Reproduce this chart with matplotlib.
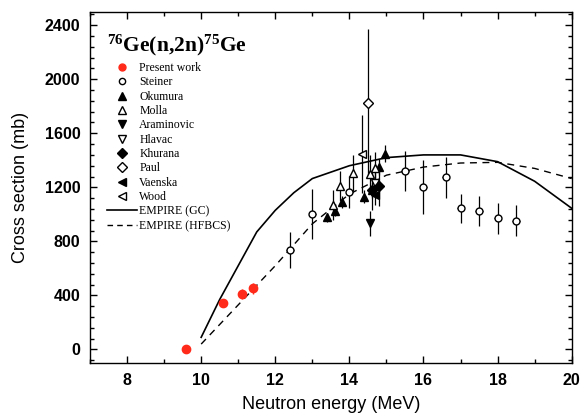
import matplotlib
matplotlib.use("Agg")

import matplotlib.pyplot as plt
from matplotlib.lines import Line2D
from matplotlib.ticker import MultipleLocator

# present work
pw_e = [9.6, 10.6, 11.1, 11.4]
pw_s = [3, 345, 410, 452]
pw_err = [15, 30, 35, 40]

# Steiner
st_e = [12.4, 13.0, 14.0, 15.5, 16.0, 16.6, 17.0, 17.5, 18.0, 18.5]
st_s = [738, 1003, 1165, 1322, 1205, 1273, 1044, 1024, 970, 952]
st_err = [135, 185, 120, 150, 200, 150, 110, 110, 115, 115]

# Okumura
ok_e = [13.4, 13.6, 13.8, 14.4, 14.6, 14.8, 14.95]
ok_s = [977, 1028, 1092, 1132, 1178, 1350, 1450]
ok_err = [35, 40, 45, 50, 55, 60, 60]

# Molla
mo_e = [13.55, 13.75, 14.1, 14.55, 14.7]
mo_s = [1068, 1210, 1306, 1296, 1345]
mo_err = [110, 110, 130, 140, 120]

# Araminovic
ar_e = [14.55]
ar_s = [933]
ar_err = [90]

# Hlavac
hl_e = [14.7]
hl_s = [1235]
hl_err = [100]

# Khurana
kh_e = [14.6, 14.8]
kh_s = [1180, 1210]
kh_err = [150, 150]

# Paul
pa_e = [14.5]
pa_s = [1822]
pa_err = [550]

# Vaenska
va_e = [14.7]
va_s = [1140]
va_err = [70]

# Wood
wo_e = [14.35]
wo_s = [1448]
wo_err = [290]

# EMPIRE calculations
gc_e = [10.0, 10.5, 11.0, 11.5, 12.0, 12.5, 13.0, 14.0, 15.0, 16.0, 17.0, 18.0, 19.0, 20.0]
gc_s = [90, 370, 620, 870, 1030, 1160, 1265, 1360, 1420, 1440, 1440, 1390, 1245, 1045]
hf_e = [10.0, 11.0, 12.0, 13.0, 14.0, 15.0, 16.0, 17.0, 18.0, 19.0, 20.0]
hf_s = [40, 330, 620, 930, 1150, 1290, 1350, 1380, 1385, 1340, 1265]

plt.rcParams['font.family'] = ['Liberation Sans', 'DejaVu Sans']
plt.rcParams['mathtext.fontset'] = 'custom'
plt.rcParams['mathtext.rm'] = 'Liberation Serif'
plt.rcParams['mathtext.it'] = 'Liberation Serif:italic'
plt.rcParams['mathtext.bf'] = 'Liberation Serif:bold'

fig = plt.figure(figsize=(5.83, 4.17), dpi=100)
ax = fig.add_axes([0.1544, 0.1295, 0.8262, 0.8425])

ebkw = dict(ecolor='black', elinewidth=0.9, capsize=0, linestyle='none')

ax.plot(gc_e, gc_s, '-', color='black', lw=1.2)
ax.plot(hf_e, hf_s, '--', color='black', lw=1.0, dashes=(5, 4))

ax.errorbar(st_e, st_s, yerr=st_err, xerr=0.1, fmt='o', mfc='white', mec='black',
            ms=5, mew=1.0, **ebkw)
ax.errorbar(ok_e, ok_s, yerr=ok_err, fmt='^', mfc='black', mec='black', ms=6, **ebkw)
ax.errorbar(mo_e, mo_s, yerr=mo_err, fmt='^', mfc='white', mec='black', ms=6, mew=1.0, **ebkw)
ax.errorbar(ar_e, ar_s, yerr=ar_err, fmt='v', mfc='black', mec='black', ms=6, **ebkw)
ax.errorbar(hl_e, hl_s, yerr=hl_err, fmt='v', mfc='white', mec='black', ms=6, mew=1.0, **ebkw)
ax.errorbar(kh_e, kh_s, yerr=kh_err, fmt='D', mfc='black', mec='black', ms=5, **ebkw)
ax.errorbar(pa_e, pa_s, yerr=pa_err, fmt='D', mfc='white', mec='black', ms=5, mew=1.0, **ebkw)
ax.errorbar(va_e, va_s, yerr=va_err, fmt='<', mfc='black', mec='black', ms=6, **ebkw)
ax.errorbar(wo_e, wo_s, yerr=wo_err, fmt='<', mfc='white', mec='black', ms=6, mew=1.0, **ebkw)
ax.errorbar(pw_e, pw_s, yerr=pw_err, fmt='o', mfc='#ff2a1a', mec='#ff2a1a', ms=6,
            ecolor='#ff2a1a', elinewidth=1.0, capsize=0, linestyle='none', zorder=5)

ax.set_xlim(7, 20)
ax.set_ylim(-100, 2500)
ax.xaxis.set_major_locator(MultipleLocator(2))
ax.xaxis.set_minor_locator(MultipleLocator(1))
ax.yaxis.set_major_locator(MultipleLocator(400))
ax.yaxis.set_minor_locator(MultipleLocator(80))
ax.tick_params(which='both', direction='in', top=True, right=True, width=1.0)
ax.tick_params(which='major', length=5)
ax.tick_params(which='minor', length=3)
ax.tick_params(axis='x', pad=7)
ax.tick_params(axis='y', pad=7)
for lab in ax.get_xticklabels() + ax.get_yticklabels():
    lab.set_fontweight('bold')
    lab.set_fontsize(11.5)
for sp in ax.spines.values():
    sp.set_linewidth(1.0)

ax.set_xlabel('Neutron energy (MeV)', fontsize=13, labelpad=6)
ax.set_ylabel('Cross section (mb)', fontsize=13, labelpad=11)

ax.text(0.035, 0.905, r'$\mathbf{^{76}Ge(n{,}2n)^{75}Ge}$', transform=ax.transAxes,
        fontsize=15.5, va='center', ha='left')

handles = [
    Line2D([], [], marker='o', ls='none', mfc='#ff2a1a', mec='#ff2a1a', ms=5),
    Line2D([], [], marker='o', ls='none', mfc='white', mec='black', ms=4.5),
    Line2D([], [], marker='^', ls='none', mfc='black', mec='black', ms=6),
    Line2D([], [], marker='^', ls='none', mfc='white', mec='black', ms=6),
    Line2D([], [], marker='v', ls='none', mfc='black', mec='black', ms=6),
    Line2D([], [], marker='v', ls='none', mfc='white', mec='black', ms=6),
    Line2D([], [], marker='D', ls='none', mfc='black', mec='black', ms=5),
    Line2D([], [], marker='D', ls='none', mfc='white', mec='black', ms=5),
    Line2D([], [], marker='<', ls='none', mfc='black', mec='black', ms=6),
    Line2D([], [], marker='<', ls='none', mfc='white', mec='black', ms=6),
    Line2D([], [], color='black', lw=1.2),
    Line2D([], [], color='black', lw=1.0, ls='--', dashes=(4, 3)),
]
labels = ['Present work', 'Steiner', 'Okumura', 'Molla', 'Araminovic', 'Hlavac',
          'Khurana', 'Paul', 'Vaenska', 'Wood', 'EMPIRE (GC)', 'EMPIRE (HFBCS)']
leg = ax.legend(handles, labels, loc='upper left', bbox_to_anchor=(0.035, 0.857),
                frameon=False, prop={'family': 'Liberation Serif', 'size': 8.5},
                handlelength=2.55, handletextpad=0.2, labelspacing=0.2,
                borderaxespad=0, borderpad=0)

fig.savefig('out.png', dpi=100)
